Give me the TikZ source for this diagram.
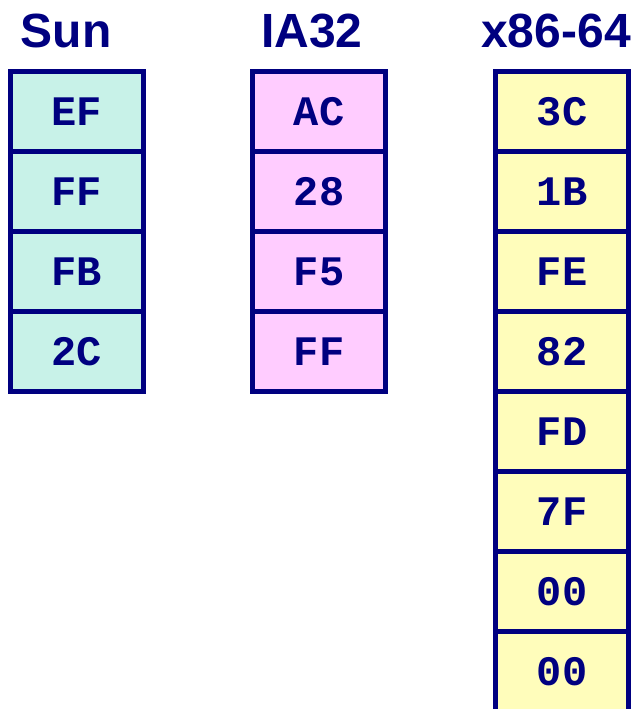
\documentclass[tikz,border=0pt]{standalone}
\usepackage{fontspec}
\setmainfont{Liberation Sans}
\setmonofont{Liberation Mono}
\usepackage{tikz}
\usetikzlibrary{positioning}

\definecolor{darknavy}{HTML}{000080}
\definecolor{sunfill}{HTML}{C8F2E8}
\definecolor{iafill}{HTML}{FFCCFF}
\definecolor{xfill}{HTML}{FFFDBB}

\tikzset{
  colhead/.style={anchor=base, text=darknavy, font=\fontsize{48}{54}\selectfont\bfseries},
  bytecell/.style={draw=darknavy, line width=5pt, minimum width=133pt, minimum height=80pt,
    inner sep=0pt, outer sep=0pt, text=darknavy, font=\fontsize{42}{46}\selectfont\ttfamily\bfseries}
}

\begin{document}
\begin{tikzpicture}[x=1pt,y=-1pt]
\useasboundingbox (0,0) rectangle (633,709);
% Column headings
\node[colhead] (sunhead) at (66,48) {Sun};
\node[colhead] (iahead) at (312,48) {IA32};
\node[colhead] (xhead) at (556,48) {x86-64};
% Sun bytes
\node[bytecell, fill=sunfill] (sun1) at (76.5,111.5) {EF};
\node[bytecell, fill=sunfill, below=0pt of sun1] (sun2) {FF};
\node[bytecell, fill=sunfill, below=0pt of sun2] (sun3) {FB};
\node[bytecell, fill=sunfill, below=0pt of sun3] (sun4) {2C};
% IA32 bytes
\node[bytecell, fill=iafill] (ia1) at (319,111.5) {AC};
\node[bytecell, fill=iafill, below=0pt of ia1] (ia2) {28};
\node[bytecell, fill=iafill, below=0pt of ia2] (ia3) {F5};
\node[bytecell, fill=iafill, below=0pt of ia3] (ia4) {FF};
% x86-64 bytes
\node[bytecell, fill=xfill] (x1) at (562,111.5) {3C};
\node[bytecell, fill=xfill, below=0pt of x1] (x2) {1B};
\node[bytecell, fill=xfill, below=0pt of x2] (x3) {FE};
\node[bytecell, fill=xfill, below=0pt of x3] (x4) {82};
\node[bytecell, fill=xfill, below=0pt of x4] (x5) {FD};
\node[bytecell, fill=xfill, below=0pt of x5] (x6) {7F};
\node[bytecell, fill=xfill, below=0pt of x6] (x7) {00};
\node[bytecell, fill=xfill, below=0pt of x7] (x8) {00};
\end{tikzpicture}
\end{document}
